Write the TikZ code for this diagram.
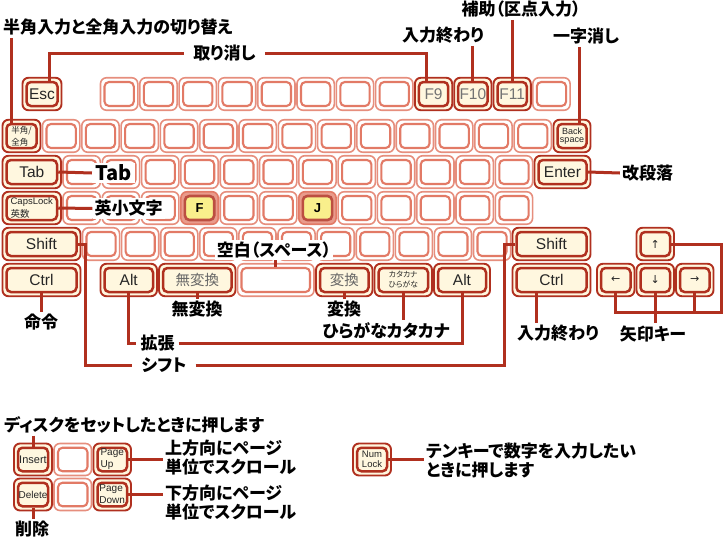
\documentclass[tikz,border=0pt]{standalone}
\usepackage{fontspec}
\setmainfont{Liberation Sans}
\newfontfamily\jp{Noto Sans CJK JP}[RawFeature=+palt]
\newfontfamily\symf{DejaVu Sans}
\usetikzlibrary{calc}

\definecolor{keyred}{HTML}{B0301F}
\definecolor{keypink}{HTML}{E27A66}
\definecolor{keycream}{HTML}{FFF7DF}
\definecolor{keyyellow}{HTML}{F9EF8C}

% one key = outer frame + inner cap (name, name-in)
\newcommand{\kbkey}[6]{%
  \node[#1out, minimum width={#5-2}] (#2) at (#3,#4) {};
  \node[#1in, minimum width={#5-10}] (#2-in) at (#3,#4) {#6};}

\tikzset{
  plainout/.style={draw=keypink!85, line width=1.6pt, fill=white, rounded corners=6pt,
    minimum height=32.5pt, inner sep=0pt},
  plainin/.style={draw=keypink, line width=2.1pt, fill=white, rounded corners=4.5pt,
    minimum height=24pt, inner sep=0pt},
  namedout/.style={plainout, draw=keyred, line width=1.9pt, fill=keycream},
  namedin/.style={plainin, draw=keyred, line width=2.5pt, fill=keycream, text=black!85,
    font=\fontsize{15.5}{15.5}\selectfont},
  homeout/.style={plainout, draw=keypink, fill=keypink!75},
  homein/.style={plainin, draw=keyred!85, line width=2.6pt, fill=keyyellow,
    font=\bfseries\fontsize{13}{13}\selectfont},
  lead/.style={draw=keyred, line width=3pt},
  note/.style={font=\jp\bfseries\fontsize{17}{19}\selectfont, fill=white, inner sep=2pt, align=left},
}

\begin{document}
\begin{tikzpicture}[x=1pt, y=-1pt]
\useasboundingbox (0,0) rectangle (723,538);

% ----------------------------
% PARAMETERS
% ----------------------------
\def\p{39.3}      % key pitch
\def\pp{39.1}     % key pitch, shift row
\def\rowA{94}     % function keys
\def\rowB{136}    % number row
\def\rowC{172}    % tab row
\def\rowD{208}    % caps row
\def\rowE{244}    % shift row
\def\rowF{280}    % ctrl row

% ----------------------------
% ROW 1: ESC AND FUNCTION KEYS
% ----------------------------
\kbkey{named}{esc}{42}{\rowA}{41}{Esc}
\foreach \i in {0,...,7,11}{\kbkey{plain}{fn\i}{{119.15+\p*\i}}{\rowA}{\p}{}}
\kbkey{named}{f9}{{119.15+8*\p}}{\rowA}{\p}{\textcolor{black!55}{F9}}
\kbkey{named}{f10}{{119.15+9*\p}}{\rowA}{\p}{\textcolor{black!55}{F10}}
\kbkey{named}{f11}{{119.15+10*\p}}{\rowA}{\p}{\textcolor{black!55}{F11}}

% ----------------------------
% ROW 2: NUMBER ROW
% ----------------------------
\kbkey{named}{hz}{21.5}{\rowB}{40}{\jp\fontsize{8.5}{9}\selectfont\shortstack[l]{半角/\\全角}}
\foreach \k in {0,...,12}{\kbkey{plain}{num\k}{{61.15+\p*\k}}{\rowB}{\p}{}}
\kbkey{named}{bs}{572}{\rowB}{39}{\fontsize{9}{9}\selectfont\shortstack{Back\\space}}

% ----------------------------
% ROW 3: TAB ROW
% ----------------------------
\kbkey{named}{tab}{31.75}{\rowC}{60.5}{Tab}
\foreach \k in {0,...,11}{\kbkey{plain}{q\k}{{81.65+\p*\k}}{\rowC}{\p}{}}
\kbkey{named}{enter}{562.5}{\rowC}{58}{Enter}

% ----------------------------
% ROW 4: CAPS ROW (home keys F, J)
% ----------------------------
\kbkey{named}{caps}{31.75}{\rowD}{60.5}{\fontsize{9.5}{10}\selectfont\shortstack[l]{CapsLock\\\jp 英数}}
\foreach \k in {0,1,2,4,5,7,8,9,10,11}{\kbkey{plain}{a\k}{{81.65+\p*\k}}{\rowD}{\p}{}}
\kbkey{home}{keyF}{{81.65+3*\p}}{\rowD}{\p}{F}
\kbkey{home}{keyJ}{{81.65+6*\p}}{\rowD}{\p}{J}

% ----------------------------
% ROW 5: SHIFT ROW
% ----------------------------
\kbkey{named}{shiftL}{41.5}{\rowE}{80}{Shift}
\foreach \k in {0,...,10}{\kbkey{plain}{z\k}{{101.05+\pp*\k}}{\rowE}{\pp}{}}
\kbkey{named}{shiftR}{551.5}{\rowE}{80}{Shift}
\kbkey{named}{up}{655.25}{\rowE}{39.5}{\symf\fontsize{11}{11}\selectfont ↑}

% ----------------------------
% ROW 6: CTRL ROW
% ----------------------------
\kbkey{named}{ctrlL}{41.5}{\rowF}{80}{Ctrl}
\kbkey{named}{altL}{128.75}{\rowF}{58.5}{Alt}
\kbkey{named}{muhen}{197.25}{\rowF}{78.5}{\jp\fontsize{14.5}{14.5}\selectfont\textcolor{black!60}{無変換}}
\kbkey{plain}{space}{275.75}{\rowF}{78.5}{}
\kbkey{named}{hen}{344.25}{\rowF}{58.5}{\jp\fontsize{14.5}{14.5}\selectfont\textcolor{black!60}{変換}}
\kbkey{named}{kana}{403.25}{\rowF}{59.5}{\jp\fontsize{7.8}{8.5}\selectfont\shortstack{カタカナ\\ひらがな}}
\kbkey{named}{altR}{462}{\rowF}{58}{Alt}
\kbkey{named}{ctrlR}{551.5}{\rowF}{80}{Ctrl}
\kbkey{named}{left}{615.75}{\rowF}{39.5}{\symf\fontsize{11}{11}\selectfont ←}
\kbkey{named}{down}{655.25}{\rowF}{39.5}{\symf\fontsize{11}{11}\selectfont ↓}
\kbkey{named}{right}{694.75}{\rowF}{39.5}{\symf\fontsize{11}{11}\selectfont →}

% ----------------------------
% SMALL KEY GROUPS (bottom)
% ----------------------------
\begin{scope}[plainout/.append style={minimum height=32pt}, plainin/.append style={minimum height=23.5pt}]
\kbkey{named}{ins}{33}{459.5}{40}{\fontsize{11}{11}\selectfont Insert}
\kbkey{plain}{blankA}{72.75}{459.5}{39.5}{}
\kbkey{named}{pgup}{112.25}{459.5}{39.5}{\fontsize{10}{10}\selectfont\shortstack[l]{Page\\Up}}
\kbkey{named}{del}{33}{494.5}{40}{\fontsize{10}{10}\selectfont Delete}
\kbkey{plain}{blankB}{72.75}{494.5}{39.5}{}
\kbkey{named}{pgdn}{112.25}{494.5}{39.5}{\fontsize{10}{10}\selectfont\shortstack[l]{Page\\Down}}
\kbkey{named}{numlk}{372}{459.5}{40}{\fontsize{9.5}{9.5}\selectfont\shortstack{Num\\Lock}}
\end{scope}

% ----------------------------
% LABELS
% ----------------------------
\node[note, anchor=west] (lbHalf) at (1,27.5) {半角入力と全角入力の切り替え};
\node[note, inner xsep=9pt] (lbCancel) at (224.5,53) {取り消し};
\node[note] (lbEndA) at (443,35.5) {入力終わり};
\node[note] (lbAux) at (521,9.5) {補助（区点入力）};
\node[note] (lbBS) at (586,36.5) {一字消し};
\node[note, font=\jp\bfseries\fontsize{20}{20}\selectfont, inner xsep=3pt] (lbTab) at (113.5,173) {Tab};
\node[note] (lbCaps) at (128.5,208.5) {英小文字};
\node[note] (lbEnter) at (647.5,173) {改段落};
\node[note] (lbSpace) at (274,250) {空白（スペース）};
\node[note] (lbCmd) at (41,322) {命令};
\node[note] (lbMuhen) at (197,309.5) {無変換};
\node[note] (lbHen) at (344,309.5) {変換};
\node[note] (lbKana) at (386,330.5) {ひらがなカタカナ};
\node[note, inner xsep=4pt] (lbExt) at (157.5,343) {拡張};
\node[note, inner xsep=9pt] (lbShift) at (164,365) {シフト};
\node[note] (lbEndB) at (558,333.5) {入力終わり};
\node[note] (lbArrow) at (653,333.5) {矢印キー};
\node[note, anchor=west] (lbIns) at (2,425) {ディスクをセットしたときに押します};
\node[note, anchor=west] (lbPgUp) at (163,457.5) {上方向にページ\\単位でスクロール};
\node[note, anchor=west] (lbPgDn) at (163,502) {下方向にページ\\単位でスクロール};
\node[note] (lbDel) at (32,529.5) {削除};
\node[note, anchor=west] (lbNum) at (424,461) {テンキーで数字を入力したい\\ときに押します};

% ----------------------------
% LEADER LINES
% ----------------------------
\coordinate (hzTap) at ([xshift=-10.5pt]hz-in.north);
\draw[lead] (hzTap |- lbHalf.south) -- (hzTap);
\draw[lead] ([xshift=7pt]esc-in.north) |- (lbCancel.west);
\draw[lead] (lbCancel.east) -| ([xshift=-7pt]f9-in.north);
\draw[lead] (lbEndA.south -| f10-in.north) -- (f10-in.north);
\draw[lead] (lbAux.south -| f11-in.north) -- (f11-in.north);
\coordinate (bsTap) at ([xshift=7.5pt]bs-in.north);
\draw[lead] (lbBS.south -| bsTap) -- (bsTap);
\draw[lead] (tab-in.east) -- (lbTab.west);
\draw[lead] (caps-in.east) -- (lbCaps.west);
\draw[lead] (enter-in.east) -- (lbEnter.west);
\draw[lead] (lbSpace.south -| space-in.north) -- (space-in.north);
\draw[lead] (ctrlL-in.south) -- (lbCmd.north -| ctrlL-in.south);
\draw[lead] (muhen-in.south) -- (lbMuhen.north -| muhen-in.south);
\draw[lead] (hen-in.south) -- (lbHen.north -| hen-in.south);
\draw[lead] (kana-in.south) -- (lbKana.north -| kana-in.south);
\draw[lead] (altL-in.south) |- (lbExt.west);
\draw[lead] (lbExt.east) -| (altR-in.south);
\coordinate (shBendL) at ([xshift=8pt]shiftL-in.east);
\coordinate (shBendR) at ([xshift=-11pt]shiftR-in.west);
\draw[lead] (shiftL-in.east) -- (shBendL) |- (lbShift.west);
\draw[lead] (lbShift.east) -| (shBendR) -- (shiftR-in.west);
\coordinate (endTap) at ([xshift=-15pt]ctrlR-in.south);
\draw[lead] (endTap) -- (endTap |- lbEndB.north);
\coordinate (arrEdge) at (721,312);
\draw[lead] (up-in.east) -| (arrEdge) -- (arrEdge -| left-in.south) -- (left-in.south);
\draw[lead] (right-in.south) -- (right-in.south |- arrEdge);
\draw[lead] (down-in.south) -- (down-in.south |- lbArrow.north);
\draw[lead] (lbIns.south -| ins-in.north) -- (ins-in.north);
\draw[lead] (pgup-in.east) -- (pgup-in.east -| lbPgUp.west);
\draw[lead] (pgdn-in.east) -- (pgdn-in.east -| lbPgDn.west);
\draw[lead] (del-in.south) -- (del-in.south |- lbDel.north);
\draw[lead] (numlk-in.east) -- (numlk-in.east -| lbNum.west);

\end{tikzpicture}
\end{document}
